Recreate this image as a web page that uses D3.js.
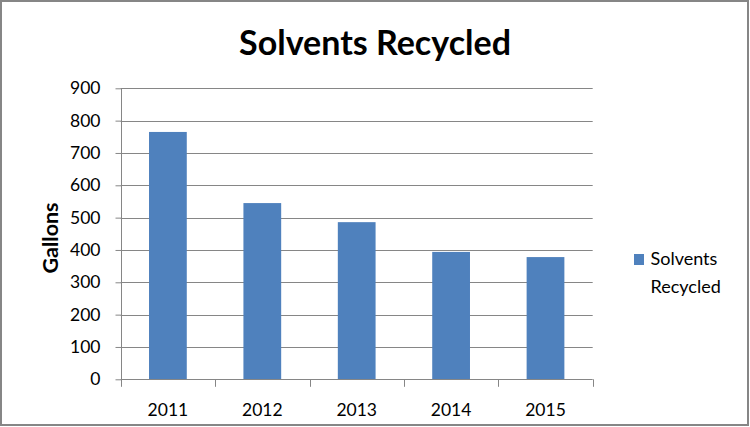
<!DOCTYPE html>
<html><head><meta charset="utf-8">
<script src="https://cdn.jsdelivr.net/npm/d3@7"></script>
<style>body{margin:0;background:#fff}svg{display:block}text{font-family:Lato,"Open Sans",sans-serif}</style>
</head><body>
<svg id="c" width="750" height="427"></svg>
<script>
const categories = ["2011","2012","2013","2014","2015"];
const values = [765, 545, 486, 394, 378];
const yTicks = [0,100,200,300,400,500,600,700,800,900];
const seriesName = "Solvents Recycled";
const title = "Solvents Recycled";
const yTitle = "Gallons";

(function(){
const svg = d3.select("#c");
const W = 750, H = 427;
const grey = "#868686";
svg.append("rect").attr("x",1).attr("y",1).attr("width",W-3).attr("height",H-3)
  .attr("fill","#fff").attr("stroke",grey).attr("stroke-width",2);

const pL = 120.7, pR = 592.7, pT = 88.3, pB = 379.3;
const x = d3.scaleBand().domain(categories).range([pL,pR]).paddingInner(0.6).paddingOuter(0.3);
const y = d3.scaleLinear().domain([0,900]).range([pB,pT]);

// gridlines
svg.append("g").selectAll("line").data(yTicks.filter(d=>d>0)).join("line")
  .attr("x1",pL).attr("x2",pR).attr("y1",d=>Math.round(y(d))+0.5).attr("y2",d=>Math.round(y(d))+0.5)
  .attr("stroke",grey).attr("stroke-width",1);

// bars
svg.append("g").selectAll("rect").data(values).join("rect")
  .attr("x",(d,i)=>x(categories[i])).attr("width",x.bandwidth())
  .attr("y",d=>y(d)).attr("height",d=>pB-y(d)).attr("fill","#4f81bd");

// y axis
const ya = svg.append("g").attr("transform",`translate(${Math.round(pL)+0.5},0)`)
  .call(d3.axisLeft(y).tickValues(yTicks).tickSize(6).tickPadding(15));
ya.select(".domain").attr("stroke",grey).attr("d",`M0,${Math.round(pT)+0.5}V${Math.round(pB)+0.5}`);
ya.selectAll(".tick line").attr("stroke",grey);
ya.selectAll("text").attr("font-size",17.5).attr("fill","#000").attr("font-family","Lato");

// x axis
const bandStep = (pR-pL)/categories.length;
const xa = svg.append("g").attr("transform",`translate(0,${Math.round(pB)+0.5})`)
  .call(d3.axisBottom(x).tickSize(0).tickPadding(24));
xa.select(".domain").attr("stroke",grey).attr("d",`M${pL},0H${pR}`);
xa.selectAll("text").attr("font-size",17.5).attr("fill","#000").attr("font-family","Lato");
svg.append("g").selectAll("line").data(d3.range(categories.length+1)).join("line")
  .attr("x1",i=>Math.round(pL+i*bandStep)+0.5).attr("x2",i=>Math.round(pL+i*bandStep)+0.5)
  .attr("y1",pB).attr("y2",pB+7.5).attr("stroke",grey);

// title
svg.append("text").attr("x",375).attr("y",55).attr("text-anchor","middle")
  .attr("font-size",34).attr("font-weight","bold").text(title);

// y title
svg.append("text").attr("transform","translate(58,238) rotate(-90)").attr("text-anchor","middle")
  .attr("font-size",21.5).attr("font-weight","bold").text(yTitle);

// legend
const lg = svg.append("g");
lg.append("rect").attr("x",634).attr("y",254).attr("width",10).attr("height",11).attr("fill","#4f81bd");
const words = seriesName.split(" ");
lg.selectAll("text").data(words).join("text").attr("x",650.5).attr("y",(d,i)=>265+i*27.5)
  .attr("font-size",18).text(d=>d);
})();
</script>
</body></html>
